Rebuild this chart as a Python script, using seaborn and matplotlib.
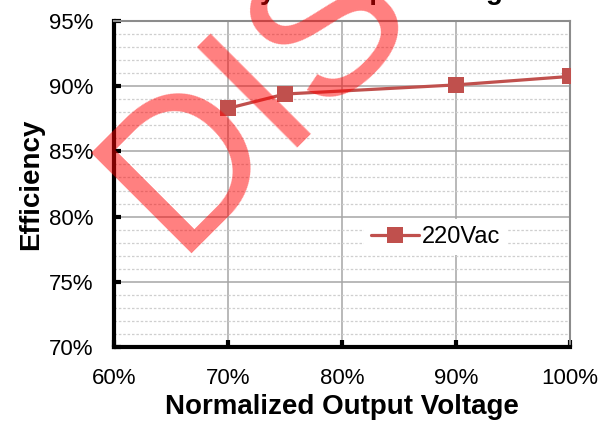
import matplotlib
matplotlib.use('Agg')
import matplotlib.pyplot as plt
from matplotlib.ticker import MultipleLocator, FuncFormatter
import pandas as pd
import seaborn as sns

# values (percent)
output_voltage = [70, 75, 90, 100]
efficiency = [88.3, 89.4, 90.1, 90.75]
series_name = '220Vac'

TITLE = 'Efficiency vs Output Voltage'
X_LABEL = 'Normalized Output Voltage'
Y_LABEL = 'Efficiency'
WATERMARK = 'DISCONTINUED'
LINE_COLOR = '#C0504D'


def main():
    sns.set_style('white')
    plt.rcParams['font.family'] = ['Liberation Sans', 'DejaVu Sans']
    plt.rcParams['text.color'] = 'black'
    plt.rcParams['axes.labelcolor'] = 'black'
    plt.rcParams['xtick.color'] = 'black'
    plt.rcParams['ytick.color'] = 'black'

    df = pd.DataFrame({'voltage': output_voltage, 'efficiency': efficiency,
                       'series': series_name})

    fig = plt.figure(figsize=(6.05, 4.25), dpi=100)
    ax = fig.add_axes([114 / 605, 1 - 347 / 425, 456 / 605, 326 / 425])

    sns.lineplot(data=df, x='voltage', y='efficiency', hue='series',
                 palette=[LINE_COLOR], marker='s', markersize=11.5,
                 markeredgewidth=0, linewidth=2.3, ax=ax, zorder=3)

    ax.set_xlim(60, 100)
    ax.set_ylim(70, 95)
    ax.xaxis.set_major_locator(MultipleLocator(10))
    ax.yaxis.set_major_locator(MultipleLocator(5))
    ax.yaxis.set_minor_locator(MultipleLocator(1))
    pct = FuncFormatter(lambda v, _: f'{v:.0f}%')
    ax.xaxis.set_major_formatter(pct)
    ax.yaxis.set_major_formatter(pct)

    ax.grid(which='major', color='#a6a6a6', linewidth=1.1, zorder=0)
    ax.grid(which='minor', axis='y', color='#cfcfcf', linestyle=(0, (2, 1.5)),
            linewidth=0.9, zorder=0)
    ax.set_axisbelow(True)

    for side in ('left', 'bottom'):
        ax.spines[side].set_color('black')
        ax.spines[side].set_linewidth(3)
    for side in ('top', 'right'):
        ax.spines[side].set_color('#8c8c8c')
        ax.spines[side].set_linewidth(1.5)

    ax.tick_params(which='major', direction='in', length=5, width=3,
                   color='black', labelcolor='black', labelsize=16, pad=15,
                   left=True, bottom=True)
    ax.tick_params(which='minor', length=0)

    ax.set_xlabel(X_LABEL, fontsize=20, fontweight='bold', labelpad=4)
    ax.set_ylabel(Y_LABEL, fontsize=20, fontweight='bold', labelpad=3)

    leg = ax.legend(loc='center', bbox_to_anchor=(0.706, 0.337), fontsize=17,
                    frameon=True, facecolor='white', edgecolor='none',
                    framealpha=1, handlelength=2.0, handletextpad=0.15,
                    borderpad=0.3)
    leg.set_zorder(4)
    for line in leg.get_lines():
        line.set_linewidth(2.3)
        line.set_markersize(11.5)

    # title sits mostly above the visible area, as in the reference
    fig.text(0.547, 1.002, TITLE, ha='center', va='baseline', fontsize=20,
             fontweight='bold')

    # red "DISCONTINUED" stamp across the chart
    fig.text(175 / 605, 1 - 254 / 425, WATERMARK, rotation=45,
             rotation_mode='anchor', ha='left', va='baseline', fontsize=148,
             color='red', alpha=0.5, zorder=10)

    fig.savefig('out.png', dpi=100)


if __name__ == '__main__':
    main()
